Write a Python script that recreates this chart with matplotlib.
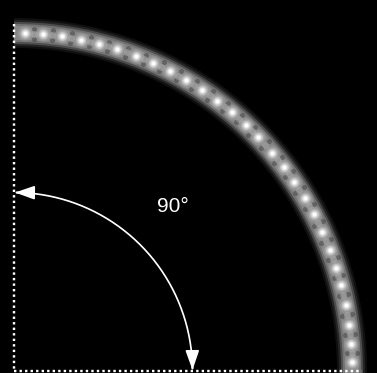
import numpy as np
import matplotlib
matplotlib.use("Agg")
import matplotlib.pyplot as plt
from matplotlib.patches import FancyArrowPatch
from matplotlib.path import Path

# bead positions along the ring, degrees from the bottom dotted line
bead_angles = [88.1, 85.1, 81.9, 78.6, 75.5, 72.2, 68.8, 65.8, 62.5, 59.4,
               56.2, 53.0, 49.9, 46.7, 43.8, 40.2, 37.1, 34.1, 30.7, 27.6,
               24.2, 21.0, 17.8, 14.7, 11.2, 7.8, 4.6, 1.5]
ring_radius = 338
arrow_radius = 178.5
arrow_span = [0.3, 89.7]
angle_label = "90°"

W, H = 377, 373
cx, cy = 14, 371
PT = 72 / 100  # points per pixel at dpi 100

fig = plt.figure(figsize=(W / 100, H / 100), dpi=100, facecolor="black")
ax = fig.add_axes([0, 0, 1, 1])
ax.set_facecolor("black")
ax.set_xlim(0, W)
ax.set_ylim(H, 0)
ax.axis("off")


def arc_xy(r, a0, a1, n=200):
    t = np.radians(np.linspace(a0, a1, n))
    return cx + r * np.cos(t), cy - r * np.sin(t)


# ring band, soft edges
bx, by = arc_xy(ring_radius, -3, 90)
for w, c in [(30, "0.06"), (26, "0.14"), (22, "0.30"), (18, "0.45"), (14, "0.52")]:
    ax.plot(bx, by, color=c, lw=w * PT, solid_capstyle="butt", zorder=1)

# dark gaps between beads near the band edges
th = np.radians(bead_angles)
mid = (th[:-1] + th[1:]) / 2
for dr in (-5, 5):
    ax.scatter(cx + (ring_radius + dr) * np.cos(mid), cy - (ring_radius + dr) * np.sin(mid),
               s=(5 * PT) ** 2, color="black", alpha=0.25, lw=0, zorder=2)
ax.scatter(cx + ring_radius * np.cos(mid), cy - ring_radius * np.sin(mid),
           s=(7 * PT) ** 2, color="0.65", alpha=0.5, lw=0, zorder=2)

# beads with glow
px = cx + ring_radius * np.cos(th)
py = cy - ring_radius * np.sin(th)
for d, a in [(16, 0.10), (12, 0.2), (9, 0.35), (6, 0.6), (3.5, 1.0)]:
    ax.scatter(px, py, s=(d * PT) ** 2, color="white", alpha=a, lw=0, zorder=3)

# dotted reference lines
ax.plot([cx, cx], [24, cy], color="white", lw=2.4 * PT, ls=(0, (1, 1.3)), zorder=4)
ax.plot([cx, 362], [cy, cy], color="white", lw=2.4 * PT, ls=(0, (1, 1.3)), zorder=4)

# curved double arrow
axx, ayy = arc_xy(arrow_radius, arrow_span[0], arrow_span[1])
arrow = FancyArrowPatch(path=Path(np.column_stack([axx, ayy])),
                        arrowstyle="<|-|>,head_length=12,head_width=4.2",
                        mutation_scale=1, color="white", lw=1.7 * PT,
                        shrinkA=0, shrinkB=0, zorder=5)
ax.add_patch(arrow)

ax.text(173, 207, angle_label, color="white", fontsize=15,
        family="Liberation Sans", ha="center", va="center", zorder=5)

fig.savefig("out.png", dpi=100, facecolor="black")
